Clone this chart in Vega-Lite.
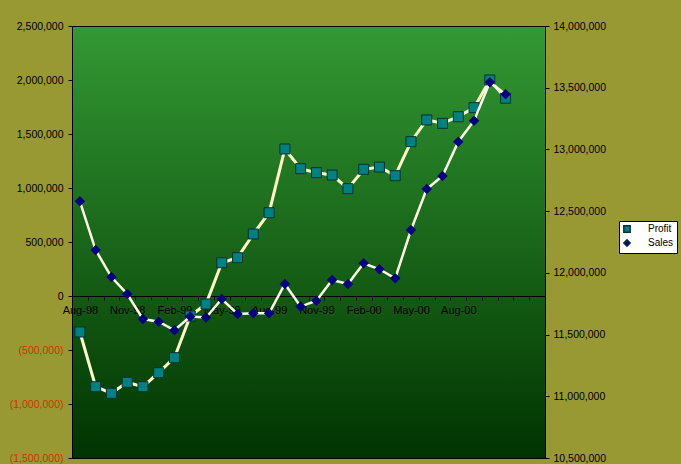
{
  "$schema": "https://vega.github.io/schema/vega-lite/v6.json",
  "autosize": {"type": "none"},
  "padding": {"left": 72, "top": 26, "right": 136, "bottom": 6},
  "width": 473,
  "height": 432,
  "background": "#999933",
  "config": {
    "view": {"stroke": "#000000", "strokeWidth": 1, "fill": {"gradient": "linear", "x1": 0, "y1": 0, "x2": 0, "y2": 1, "stops": [{"offset": 0, "color": "#339933"}, {"offset": 1, "color": "#003300"}]}},
    "axis": {"labelFont": "Liberation Sans", "labelColor": "#000000", "domainColor": "#000000", "tickColor": "#000000", "grid": false}
  },
  "data": {"values": [
    {"month": "Aug-98", "Profit": -333000, "Sales": 12580000},
    {"month": "Sep-98", "Profit": -840000, "Sales": 12185000},
    {"month": "Oct-98", "Profit": -901000, "Sales": 11966000},
    {"month": "Nov-98", "Profit": -799000, "Sales": 11829000},
    {"month": "Dec-98", "Profit": -840000, "Sales": 11626000},
    {"month": "Jan-99", "Profit": -710000, "Sales": 11604000},
    {"month": "Feb-99", "Profit": -571000, "Sales": 11535000},
    {"month": "Mar-99", "Profit": -185000, "Sales": 11646000},
    {"month": "Apr-99", "Profit": -74000, "Sales": 11638000},
    {"month": "May-99", "Profit": 308000, "Sales": 11788000},
    {"month": "Jun-99", "Profit": 355000, "Sales": 11667000},
    {"month": "Jul-99", "Profit": 574000, "Sales": 11672000},
    {"month": "Aug-99", "Profit": 771000, "Sales": 11672000},
    {"month": "Sep-99", "Profit": 1361000, "Sales": 11910000},
    {"month": "Oct-99", "Profit": 1179000, "Sales": 11727000},
    {"month": "Nov-99", "Profit": 1142000, "Sales": 11774000},
    {"month": "Dec-99", "Profit": 1120000, "Sales": 11942000},
    {"month": "Jan-00", "Profit": 994000, "Sales": 11910000},
    {"month": "Feb-00", "Profit": 1173000, "Sales": 12077000},
    {"month": "Mar-00", "Profit": 1194000, "Sales": 12029000},
    {"month": "Apr-00", "Profit": 1114000, "Sales": 11956000},
    {"month": "May-00", "Profit": 1429000, "Sales": 12347000},
    {"month": "Jun-00", "Profit": 1630000, "Sales": 12679000},
    {"month": "Jul-00", "Profit": 1599000, "Sales": 12785000},
    {"month": "Aug-00", "Profit": 1660000, "Sales": 13063000},
    {"month": "Sep-00", "Profit": 1744000, "Sales": 13233000},
    {"month": "Oct-00", "Profit": 2000000, "Sales": 13544000},
    {"month": "Nov-00", "Profit": 1831000, "Sales": 13447000}
  ]},
  "layer": [
    {
      "encoding": {
        "x": {"field": "month", "type": "ordinal", "sort": null,
          "scale": {"type": "point", "padding": 0.5, "domain": ["Aug-98","Sep-98","Oct-98","Nov-98","Dec-98","Jan-99","Feb-99","Mar-99","Apr-99","May-99","Jun-99","Jul-99","Aug-99","Sep-99","Oct-99","Nov-99","Dec-99","Jan-00","Feb-00","Mar-00","Apr-00","May-00","Jun-00","Jul-00","Aug-00","Sep-00","Oct-00","Nov-00","Dec-00","Jan-01"]},
          "axis": {"title": null, "orient": "bottom", "offset": -162, "zindex": 0, "tickSize": 4, "tickOffset": -7.883, "labelOffset": 7.883, "labelAngle": 0, "labelFontSize": 11, "labelPadding": 4, "labelOverlap": false, "labelBound": false,
            "labelExpr": "indexof(['Aug-98','Nov-98','Feb-99','May-99','Aug-99','Nov-99','Feb-00','May-00','Aug-00'], datum.value) >= 0 ? datum.value : ''"}},
        "y": {"field": "Profit", "type": "quantitative",
          "scale": {"domain": [-1500000, 2500000], "nice": false, "zero": false},
          "axis": {"title": null, "orient": "left", "zindex": 1, "values": [-1500000,-1000000,-500000,0,500000,1000000,1500000,2000000,2500000], "tickSize": 4, "labelPadding": 5, "labelFontSize": 10.5,
            "labelExpr": "datum.value < 0 ? '(' + format(-datum.value, ',') + ')' : format(datum.value, ',')",
            "labelColor": {"condition": {"test": "datum.value < 0", "value": "#CC3300"}, "value": "#000000"}}}
      },
      "layer": [
        {"mark": {"type": "line", "color": "#FFFFCC", "strokeWidth": 3}},
        {"mark": {"type": "point", "filled": true, "size": 100, "opacity": 1, "stroke": "#003333", "strokeWidth": 1},
          "encoding": {
            "color": {"datum": "Profit", "type": "nominal", "scale": {"domain": ["Profit", "Sales"], "range": ["#008080", "#000080"]},
              "legend": {"title": null, "orient": "none", "legendX": 547, "legendY": 195, "fillColor": "#FFFFFF", "strokeColor": "#000000", "padding": 3, "labelFont": "Liberation Sans", "labelFontSize": 10, "labelColor": "#000000", "symbolSize": 40, "rowPadding": 0, "labelOffset": 16, "symbolOpacity": 1}},
            "shape": {"datum": "Profit", "type": "nominal", "scale": {"domain": ["Profit", "Sales"], "range": ["square", "diamond"]},
              "legend": {"title": null, "orient": "none", "legendX": 547, "legendY": 195, "fillColor": "#FFFFFF", "strokeColor": "#000000", "padding": 3, "labelFont": "Liberation Sans", "labelFontSize": 10, "labelColor": "#000000", "symbolSize": 40, "rowPadding": 0, "labelOffset": 16, "symbolOpacity": 1}}
          }}
      ]
    },
    {
      "encoding": {
        "x": {"field": "month", "type": "ordinal", "sort": null,
          "scale": {"type": "point", "padding": 0.5, "domain": ["Aug-98","Sep-98","Oct-98","Nov-98","Dec-98","Jan-99","Feb-99","Mar-99","Apr-99","May-99","Jun-99","Jul-99","Aug-99","Sep-99","Oct-99","Nov-99","Dec-99","Jan-00","Feb-00","Mar-00","Apr-00","May-00","Jun-00","Jul-00","Aug-00","Sep-00","Oct-00","Nov-00","Dec-00","Jan-01"]},
          "axis": {"title": null, "orient": "bottom", "offset": -162, "zindex": 0, "tickSize": 4, "tickOffset": -7.883, "labelOffset": 7.883, "labelAngle": 0, "labelFontSize": 11, "labelPadding": 4, "labelOverlap": false, "labelBound": false,
            "labelExpr": "indexof(['Aug-98','Nov-98','Feb-99','May-99','Aug-99','Nov-99','Feb-00','May-00','Aug-00'], datum.value) >= 0 ? datum.value : ''"}},
        "y": {"field": "Sales", "type": "quantitative",
          "scale": {"domain": [10500000, 14000000], "nice": false, "zero": false},
          "axis": {"title": null, "orient": "right", "zindex": 1, "values": [10500000,11000000,11500000,12000000,12500000,13000000,13500000,14000000], "tickSize": 4, "labelPadding": 4, "labelFontSize": 10.5, "labelExpr": "format(datum.value, ',')"}}
      },
      "layer": [
        {"mark": {"type": "line", "color": "#FFFFE8", "strokeWidth": 2.5}},
        {"mark": {"type": "point", "filled": true, "size": 110, "opacity": 1},
          "encoding": {
            "color": {"datum": "Sales", "type": "nominal"},
            "shape": {"datum": "Sales", "type": "nominal"}
          }}
      ]
    }
  ],
  "resolve": {"scale": {"y": "independent"}, "axis": {"y": "independent"}}
}
